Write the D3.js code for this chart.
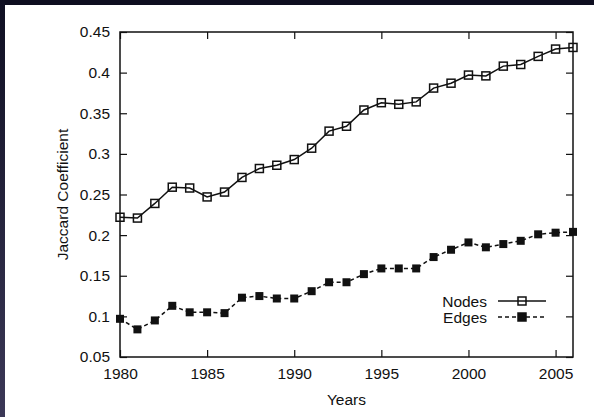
<!DOCTYPE html>
<html>
<head>
<meta charset="utf-8">
<script src="https://cdn.jsdelivr.net/npm/d3@7"></script>
<style>
  html, body { margin: 0; padding: 0; background: #0e0e20; }
  svg { display: block; }
  text { font-family: "Liberation Sans", Arial, sans-serif; fill: #111; }
</style>
</head>
<body>
<svg id="chart"></svg>
<script>
var years = d3.range(1980, 2007);

var nodes = [0.222, 0.221, 0.239, 0.259, 0.258, 0.247, 0.253, 0.271, 0.282, 0.286,
  0.293, 0.307, 0.328, 0.334, 0.354, 0.363, 0.361, 0.364, 0.381, 0.387,
  0.397, 0.396, 0.408, 0.410, 0.420, 0.429, 0.431];

var edges = [0.097, 0.084, 0.095, 0.113, 0.105, 0.105, 0.104, 0.123, 0.125, 0.122,
  0.122, 0.131, 0.142, 0.142, 0.152, 0.159, 0.159, 0.159, 0.173, 0.182,
  0.191, 0.185, 0.189, 0.193, 0.201, 0.203, 0.204];

var xTicks = [1980, 1985, 1990, 1995, 2000, 2005];
var yTicks = [0.05, 0.1, 0.15, 0.2, 0.25, 0.3, 0.35, 0.4, 0.45];

var width = 594, height = 417;
var margin = { top: 32, right: 21, bottom: 60, left: 120 };
var fontSize = '15.5px';

var svg = d3.select('svg#chart')
  .attr('width', width)
  .attr('height', height);

// dark frame on the left
var defs = svg.append('defs');
var grad = defs.append('linearGradient')
  .attr('id', 'side')
  .attr('x1', 0).attr('y1', 0).attr('x2', 0).attr('y2', 1);
grad.append('stop').attr('offset', '0%').attr('stop-color', '#0f0f22');
grad.append('stop').attr('offset', '100%').attr('stop-color', '#3b3857');

svg.append('rect')
  .attr('x', 0).attr('y', 0)
  .attr('width', 5).attr('height', height)
  .style('fill', 'url(#side)');

svg.append('rect')
  .attr('x', 5).attr('y', 5)
  .attr('width', width - 5).attr('height', height - 5)
  .style('fill', 'white');

var x = d3.scaleLinear()
  .domain([1980, 2006])
  .range([margin.left, width - margin.right]);

var y = d3.scaleLinear()
  .domain([0.05, 0.45])
  .range([height - margin.bottom, margin.top]);

var g = svg.append('g');

// axes with inward ticks, mirrored on top / right
g.append('g')
  .attr('transform', 'translate(0,' + y(0.05) + ')')
  .call(d3.axisBottom(x).tickValues(xTicks).tickSizeInner(-7).tickSizeOuter(0).tickPadding(11).tickFormat(d3.format('d')))
  .call(function (a) { a.select('.domain').remove(); });

g.append('g')
  .attr('transform', 'translate(0,' + y(0.45) + ')')
  .call(d3.axisTop(x).tickValues(xTicks).tickSizeInner(-7).tickSizeOuter(0).tickFormat(''))
  .call(function (a) { a.select('.domain').remove(); });

g.append('g')
  .attr('transform', 'translate(' + x(1980) + ',0)')
  .call(d3.axisLeft(y).tickValues(yTicks).tickSizeInner(-7).tickSizeOuter(0).tickPadding(10).tickFormat(d3.format('')))
  .call(function (a) { a.select('.domain').remove(); });

g.append('g')
  .attr('transform', 'translate(' + x(2006) + ',0)')
  .call(d3.axisRight(y).tickValues(yTicks).tickSizeInner(-7).tickSizeOuter(0).tickFormat(''))
  .call(function (a) { a.select('.domain').remove(); });

g.selectAll('.tick line')
  .style('stroke', '#111')
  .style('stroke-width', 1.2);

g.selectAll('.tick text')
  .style('font-size', fontSize)
  .style('font-family', '"Liberation Sans", Arial, sans-serif')
  .style('fill', '#111');

// frame
g.append('rect')
  .attr('x', x(1980))
  .attr('y', y(0.45))
  .attr('width', x(2006) - x(1980))
  .attr('height', y(0.05) - y(0.45))
  .style('fill', 'none')
  .style('stroke', '#111')
  .style('stroke-width', 1.5);

// axis labels
svg.append('text')
  .attr('x', (x(1980) + x(2006)) / 2)
  .attr('y', 405)
  .attr('text-anchor', 'middle')
  .style('font-size', fontSize)
  .text('Years');

svg.append('text')
  .attr('transform', 'translate(68,' + ((y(0.05) + y(0.45)) / 2) + ') rotate(-90)')
  .attr('text-anchor', 'middle')
  .style('font-size', fontSize)
  .text('Jaccard Coefficient');

// series
var line = d3.line()
  .x(function (d) { return x(d[0]); })
  .y(function (d) { return y(d[1]); });

var nodeData = years.map(function (yr, i) { return [yr, nodes[i]]; });
var edgeData = years.map(function (yr, i) { return [yr, edges[i]]; });

g.append('path')
  .datum(edgeData)
  .attr('d', line)
  .style('fill', 'none')
  .style('stroke', '#111')
  .style('stroke-width', 1.5)
  .style('stroke-dasharray', '4,3');

g.selectAll('rect.edge')
  .data(edgeData)
  .enter()
  .append('rect')
    .attr('class', 'edge')
    .attr('x', function (d) { return x(d[0]) - 4; })
    .attr('y', function (d) { return y(d[1]) - 4; })
    .attr('width', 8)
    .attr('height', 8)
    .style('fill', '#111');

g.append('path')
  .datum(nodeData)
  .attr('d', line)
  .style('fill', 'none')
  .style('stroke', '#111')
  .style('stroke-width', 1.5);

g.selectAll('rect.node')
  .data(nodeData)
  .enter()
  .append('rect')
    .attr('class', 'node')
    .attr('x', function (d) { return x(d[0]) - 4; })
    .attr('y', function (d) { return y(d[1]) - 4; })
    .attr('width', 8)
    .attr('height', 8)
    .style('fill', 'none')
    .style('stroke', '#111')
    .style('stroke-width', 1.5);

// legend
var legend = [
  { name: 'Nodes', y: 301, dash: null, fill: 'none' },
  { name: 'Edges', y: 317, dash: '4,3', fill: '#111' }
];

var lg = svg.selectAll('g.legend')
  .data(legend)
  .enter()
  .append('g')
    .attr('class', 'legend');

lg.append('text')
  .attr('x', 487)
  .attr('y', function (d) { return d.y + 5.5; })
  .attr('text-anchor', 'end')
  .style('font-size', fontSize)
  .text(function (d) { return d.name; });

lg.append('line')
  .attr('x1', 498)
  .attr('x2', 546)
  .attr('y1', function (d) { return d.y; })
  .attr('y2', function (d) { return d.y; })
  .style('stroke', '#111')
  .style('stroke-width', 1.5)
  .style('stroke-dasharray', function (d) { return d.dash; });

lg.append('rect')
  .attr('x', 518)
  .attr('y', function (d) { return d.y - 4; })
  .attr('width', 8)
  .attr('height', 8)
  .style('fill', function (d) { return d.fill; })
  .style('stroke', '#111')
  .style('stroke-width', 1.5);
</script>
</body>
</html>
